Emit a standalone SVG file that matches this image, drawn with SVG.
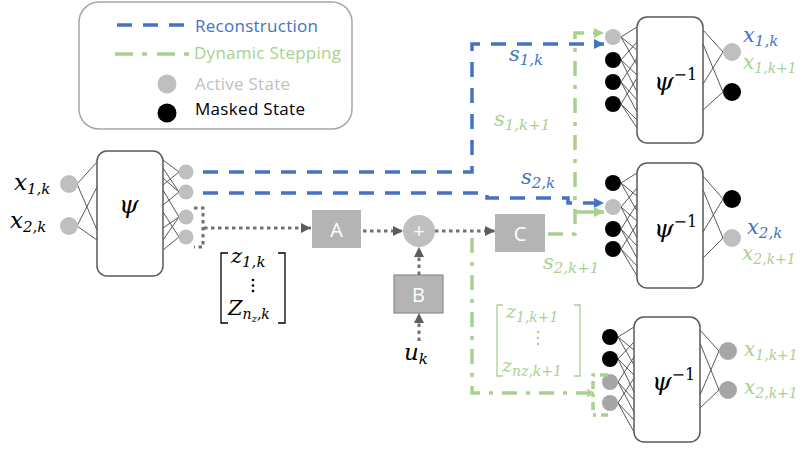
<svg xmlns="http://www.w3.org/2000/svg" width="802" height="449" viewBox="0 0 802 449">
<style>
.t{font-family:"Open Sans","Liberation Sans",sans-serif;}
.m{font-family:"DejaVu Serif","Liberation Serif",serif;font-style:italic;}
.e{stroke:#595959;stroke-width:1;fill:none;}
.box{fill:#fff;stroke:#595959;stroke-width:1.5;}
.g{fill:#BFBFBF;}
.dg{fill:#A6A6A6;}
.k{fill:#000;}
.blue{stroke:#4472C4;stroke-width:3.5;fill:none;stroke-dasharray:15 11;}
.green{stroke:#A9D18E;stroke-width:3.5;fill:none;stroke-dasharray:15 9 4 9;}
.dot{stroke:#767171;stroke-width:3;fill:none;stroke-dasharray:3.5 3.5;}
.op{fill:#B4B4B4;}
.lt{fill:#fff;font-family:"Open Sans","Liberation Sans",sans-serif;font-size:20px;text-anchor:middle;}
.cb{fill:#4472C4;}
.cg{fill:#A9D18E;}
</style>
<defs>
<marker id="ab" viewBox="0 0 10 10" refX="10" refY="5" markerWidth="11" markerHeight="10" markerUnits="userSpaceOnUse" orient="auto"><path d="M0,0 L10,5 L0,10z" fill="#4472C4"/></marker>
<marker id="ag" viewBox="0 0 10 10" refX="10" refY="5" markerWidth="11" markerHeight="10" markerUnits="userSpaceOnUse" orient="auto"><path d="M0,0 L10,5 L0,10z" fill="#A9D18E"/></marker>
<marker id="ak" viewBox="0 0 10 10" refX="10" refY="5" markerWidth="11" markerHeight="10" markerUnits="userSpaceOnUse" orient="auto"><path d="M0,0 L10,5 L0,10z" fill="#5F5B5B"/></marker>
<marker id="ag2" viewBox="0 0 10 10" refX="10" refY="5" markerWidth="7" markerHeight="8" markerUnits="userSpaceOnUse" orient="auto"><path d="M0,0 L10,5 L0,10" fill="none" stroke="#A9D18E" stroke-width="2"/></marker>
</defs>
<rect width="802" height="449" fill="#fff"/>

<g id="legend">
<rect x="79" y="2" width="273" height="127" rx="20" fill="#fff" stroke="#A6A6A6" stroke-width="1.5"/>
<path d="M117,25 H187" class="blue"/>
<text x="195" y="32" class="t" font-size="17" fill="#4472C4" textLength="123">Reconstruction</text>
<path d="M115,54 H190" class="green" style="stroke-dasharray:18 9 5 10"/>
<text x="194" y="59" class="t" font-size="17" fill="#A9D18E" textLength="147">Dynamic Stepping</text>
<circle cx="167" cy="84" r="9.5" class="g"/>
<text x="195" y="90" class="t" font-size="17" fill="#BFBFBF" textLength="95">Active State</text>
<circle cx="167" cy="113" r="9.5" class="k"/>
<text x="195" y="115" class="t" font-size="17" fill="#000" textLength="110">Masked State</text>
</g>

<g id="encoder">
<path class="e" d="M77,184 L97,162 M77,184 L97,230 M77,226 L97,187 M77,226 L97,240
M179,172 L163,160 M179,172 L163,185
M179,192 L163,168 M179,192 L163,178 M179,192 L163,205
M179,217 L163,190 M179,217 L163,228 M179,217 L163,240
M179,237 L163,212 M179,237 L163,250"/>
<rect x="97" y="151" width="66" height="125" rx="10" class="box"/>
<text x="119" y="213" class="m" font-size="25">ψ</text>
<circle cx="69" cy="184" r="9" class="g"/>
<circle cx="69" cy="226" r="9" class="g"/>
<circle cx="186" cy="172" r="7.5" class="g"/>
<circle cx="186" cy="192" r="7.5" class="g"/>
<circle cx="186" cy="217" r="7.5" class="g"/>
<circle cx="186" cy="237" r="7.5" class="g"/>
<text x="14" y="190" class="m" font-size="23">x<tspan dy="4" font-size="15">1,k</tspan></text>
<text x="10" y="228" class="m" font-size="23">x<tspan dy="4" font-size="15">2,k</tspan></text>
</g>

<g id="zk">
<path d="M228,253 H221 V323 H228 M278,253 H285 V323 H278" stroke="#000" stroke-width="1.3" fill="none"/>
<text x="231" y="263" class="m" font-size="21">z<tspan dy="4" font-size="15">1,k</tspan></text>
<circle cx="253" cy="280" r="1.3"/><circle cx="253" cy="285.5" r="1.3"/><circle cx="253" cy="291" r="1.3"/>
<text x="228" y="315" class="m" font-size="21">Z<tspan dy="4" font-size="14">n</tspan><tspan dy="3" font-size="10">z</tspan><tspan dy="-3" font-size="14">,k</tspan></text>
</g>

<g id="A"><rect x="312" y="210" width="49" height="38" class="op"/><text x="336.5" y="237" class="lt">A</text></g>
<g id="plus"><circle cx="419" cy="231" r="16" fill="#BFBFBF"/><text x="419" y="238" class="lt" font-size="18">+</text></g>
<g id="B"><rect x="394" y="275" width="49" height="38" class="op" stroke="#8C8C8C" stroke-width="1.2"/><text x="418.5" y="302" class="lt">B</text></g>
<g id="C"><rect x="495" y="214" width="50" height="38" class="op"/><text x="520" y="241" class="lt">C</text></g>
<g id="uk"><text x="404" y="360" class="m" font-size="23" fill="#000">u<tspan dy="4" font-size="15">k</tspan></text></g>

<g id="decoder1">
<path class="e" d="M621,37 L637,27 M621,37 L637,50 M621,37 L637,65
M621,60 L637,42 M621,60 L637,75 M621,60 L637,92
M621,82 L637,58 M621,82 L637,100 M621,82 L637,112
M621,104 L637,78 M621,104 L637,120 M621,104 L637,128
M723,52 L703,30 M723,52 L703,84 M723,92 L703,44 M723,92 L703,110"/>
<rect x="637" y="17" width="66" height="126" rx="10" class="box"/>
<text x="654" y="90" class="m" font-size="25">ψ<tspan dy="-10" font-size="16" font-style="normal">−1</tspan></text>
<circle cx="613" cy="37" r="8" class="g"/>
<circle cx="613" cy="60" r="8" class="k"/>
<circle cx="613" cy="82" r="8" class="k"/>
<circle cx="613" cy="104" r="8" class="k"/>
<circle cx="732" cy="52" r="9" class="g"/>
<circle cx="732" cy="92" r="9" class="k"/>
<text x="743" y="42" class="m cb" font-size="21">x<tspan dy="4" font-size="15">1,k</tspan></text>
<text x="743" y="69" class="m cg" font-size="20">x<tspan dy="4" font-size="14">1,k+1</tspan></text>
</g>

<g id="decoder2">
<path class="e" d="M621,183 L637,173 M621,183 L637,196 M621,183 L637,211
M621,207 L637,188 M621,207 L637,221 M621,207 L637,238
M621,229 L637,204 M621,229 L637,246 M621,229 L637,258
M621,249 L637,224 M621,249 L637,266 M621,249 L637,276
M723,199 L703,176 M723,199 L703,232 M723,238 L703,190 M723,238 L703,258"/>
<rect x="637" y="163" width="66" height="125" rx="10" class="box"/>
<text x="654" y="237" class="m" font-size="25">ψ<tspan dy="-10" font-size="16" font-style="normal">−1</tspan></text>
<circle cx="613" cy="183" r="8" class="k"/>
<circle cx="613" cy="207" r="8" class="g"/>
<circle cx="613" cy="229" r="8" class="k"/>
<circle cx="613" cy="249" r="8" class="k"/>
<circle cx="732" cy="199" r="9" class="k"/>
<circle cx="732" cy="238" r="9" class="g"/>
<text x="747" y="234" class="m cb" font-size="21">x<tspan dy="4" font-size="15">2,k</tspan></text>
<text x="742" y="260" class="m cg" font-size="20">x<tspan dy="4" font-size="14">2,k+1</tspan></text>
</g>

<g id="decoder3">
<path class="e" d="M618,337 L634,327 M618,337 L634,350 M618,337 L634,365
M618,359 L634,342 M618,359 L634,375 M618,359 L634,392
M618,382 L634,357 M618,382 L634,400 M618,382 L634,412
M618,403 L634,378 M618,403 L634,420 M618,403 L634,432
M719,351 L700,330 M719,351 L700,395 M719,390 L700,343 M719,390 L700,408"/>
<rect x="634" y="317" width="66" height="125" rx="10" class="box"/>
<text x="652" y="390" class="m" font-size="25">ψ<tspan dy="-10" font-size="16" font-style="normal">−1</tspan></text>
<circle cx="610" cy="337" r="8" class="k"/>
<circle cx="610" cy="359" r="8" class="k"/>
<circle cx="610" cy="382" r="8" class="dg"/>
<circle cx="610" cy="403" r="8" class="dg"/>
<circle cx="728" cy="351" r="9" class="dg"/>
<circle cx="728" cy="390" r="9" class="dg"/>
<text x="744" y="356" class="m cg" font-size="20">x<tspan dy="4" font-size="14">1,k+1</tspan></text>
<text x="744" y="394" class="m cg" font-size="20">x<tspan dy="4" font-size="14">2,k+1</tspan></text>
</g>

<g id="zk1">
<path d="M503,305 H497 V376 H503 M574,305 H580 V376 H574" stroke="#A9D18E" stroke-width="1.3" fill="none"/>
<text x="506" y="318" class="m cg" font-size="19">z<tspan dy="4" font-size="14">1,k+1</tspan></text>
<circle cx="538" cy="332" r="1.2" class="cg"/><circle cx="538" cy="338" r="1.2" class="cg"/><circle cx="538" cy="344" r="1.2" class="cg"/>
<text x="502" y="372" class="m cg" font-size="19">z<tspan dy="4" font-size="14">nz,k+1</tspan></text>
</g>

<g id="connectors">
<path class="blue" d="M203,172 H472 V44 H604" marker-end="url(#ab)"/>
<path class="blue" d="M203,193 H487 V198 H568 V203 H604" marker-end="url(#ab)"/>
<path class="green" d="M548,234 H575 V33 H604" marker-end="url(#ag)"/>
<path class="green" d="M576,212 H604" style="stroke-dasharray:none" marker-end="url(#ag)"/>
<path class="green" d="M472,238 V393 H594" marker-end="url(#ag2)"/>
<path class="green" d="M608,375 H593 V415 H608" style="stroke-dasharray:8 5 3 5"/>
<path class="dot" d="M194,208 H203 V247 H194"/>
<path class="dot" d="M204,228 H311" marker-end="url(#ak)"/>
<path class="dot" d="M363,231 H403" marker-end="url(#ak)"/>
<path class="dot" d="M435,231 H495" marker-end="url(#ak)"/>
<path class="dot" d="M419,275 V247" marker-end="url(#ak)"/>
<path class="dot" d="M419,341 V313" marker-end="url(#ak)"/>
</g>

<g id="labels">
<text x="509" y="61" class="m cb" font-size="21">s<tspan dy="4" font-size="15">1,k</tspan></text>
<text x="494" y="126" class="m cg" font-size="21">s<tspan dy="4" font-size="15">1,k+1</tspan></text>
<text x="521" y="184" class="m cb" font-size="21">s<tspan dy="4" font-size="15">2,k</tspan></text>
<text x="543" y="269" class="m cg" font-size="21">s<tspan dy="4" font-size="15">2,k+1</tspan></text>
</g>
</svg>
